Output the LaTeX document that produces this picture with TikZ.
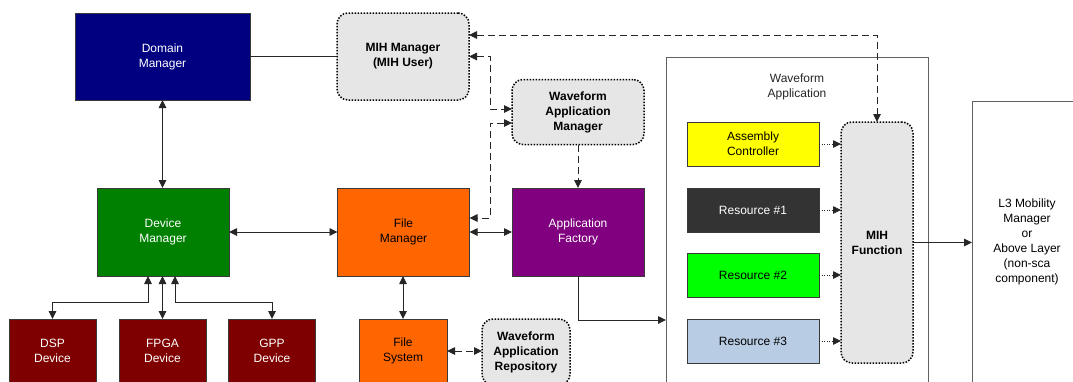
\documentclass[tikz,border=0pt]{standalone}
\usepackage{fontspec}
\setmainfont{Liberation Sans}
\usetikzlibrary{arrows.meta}
\definecolor{navybox}{HTML}{000080}
\definecolor{greenbox}{HTML}{008000}
\definecolor{orangebox}{HTML}{FF6600}
\definecolor{purplebox}{HTML}{800080}
\definecolor{maroonbox}{HTML}{7F0000}
\definecolor{softgray}{HTML}{E6E6E6}
\definecolor{darkres}{HTML}{333333}
\definecolor{limebox}{HTML}{00FF00}
\definecolor{bluebox}{HTML}{B8CCE4}
\definecolor{yellowbox}{HTML}{FFFF00}
\definecolor{edgegray}{HTML}{3A3A3A}
\definecolor{linegray}{HTML}{262626}
\begin{document}
\begin{tikzpicture}[x=1pt,y=-1pt,
  >={Triangle[length=8pt,width=7.5pt]},
  txt/.style={font=\fontsize{12}{15}\selectfont, align=center},
  box/.style={txt, draw=edgegray, line width=0.8pt, inner sep=0pt, outer sep=0pt},
  softbox/.style={txt, font=\fontsize{12}{15}\selectfont\bfseries, fill=softgray,
    draw=black, line width=1.5pt, dash pattern=on 1.5pt off 1.5pt,
    rounded corners=11pt, inner sep=0pt, outer sep=0pt},
  framebox/.style={txt, draw=edgegray!80, line width=0.8pt, fill=white, inner sep=0pt, outer sep=0pt},
  link/.style={draw=linegray, line width=0.9pt},
  dashlink/.style={draw=linegray, line width=0.9pt, dash pattern=on 7pt off 4pt},
  dotlink/.style={draw=linegray, line width=0.8pt, dash pattern=on 1pt off 1.5pt},
]
\useasboundingbox (0,0) rectangle (1073,381);
\clip (0,0) rectangle (1073,381);
\fill[white] (0,0) rectangle (1073,381);

% --- core framework ---
\node[box, fill=navybox, text=white, minimum width=175, minimum height=87] (dom) at (162.5,56.5) {Domain\\Manager};
\node[softbox, minimum width=132, minimum height=87] (mihm) at (403,56.5) {MIH Manager\\(MIH User)};
\node[softbox, minimum width=132, minimum height=65] (wam) at (578,112) {Waveform\\Application\\Manager};

\node[box, fill=greenbox, text=white, minimum width=132, minimum height=88] (dm) at (163,232) {Device\\Manager};
\node[box, fill=orangebox, minimum width=132, minimum height=88] (fm) at (403.5,232) {File\\Manager};
\node[box, fill=purplebox, text=white, minimum width=132, minimum height=88] (af) at (578,232) {Application\\Factory};

% --- devices and storage ---
\node[box, fill=maroonbox, text=white, minimum width=87, minimum height=64] (dsp) at (52.5,351) {DSP\\Device};
\node[box, fill=maroonbox, text=white, minimum width=87, minimum height=64] (fpga) at (162.5,351) {FPGA\\Device};
\node[box, fill=maroonbox, text=white, minimum width=87, minimum height=64] (gpp) at (272,351) {GPP\\Device};
\node[box, fill=orangebox, minimum width=88, minimum height=64] (fs) at (403,351) {File\\System};
\node[softbox, minimum width=88, minimum height=66] (war) at (526,352) {Waveform\\Application\\Repository};

% --- waveform application ---
\node[framebox, minimum width=262, minimum height=334] (wa) at (797,224) {};
\node[txt, text=black!85] (walabel) at (797,86.5) {Waveform\\Application};
\node[box, fill=yellowbox, minimum width=132, minimum height=44] (ac) at (753,144) {Assembly\\Controller};
\node[box, fill=darkres, text=white, minimum width=132, minimum height=44] (r1) at (753,210) {Resource \#1};
\node[box, fill=limebox, minimum width=132, minimum height=44] (r2) at (753,275) {Resource \#2};
\node[box, fill=bluebox, minimum width=132, minimum height=44] (r3) at (753,341) {Resource \#3};
\node[softbox, minimum width=72, minimum height=241] (mihf) at (877,242.5) {MIH\\Function};

% --- upper layer ---
\node[framebox, minimum width=110, minimum height=282] (l3) at (1027,242) {L3 Mobility\\Manager\\or\\Above Layer\\(non-sca\\component)};

% --- solid connectors ---
\draw[link] (dom.east) -- (mihm.west);
\draw[link,<->] (dom.south) -- (dom.south |- dm.north);
\draw[link,<->] (dm.east) -- (fm.west);
\draw[link,<->] (fm.east) -- (af.west);
\draw[link,<->] (fs.north |- fm.south) -- (fs.north);

\coordinate (dspbend) at (148,302.5);
\coordinate (gppbend) at (175,302.5);
\draw[link,<->] (dm.south -| dspbend) -- (dspbend) -| (dsp.north);
\draw[link,<->] (dm.south -| fpga.north) -- (fpga.north);
\draw[link,<->] (dm.south -| gppbend) -- (gppbend) -| (gpp.north);

\coordinate (afbend) at (578,320);
\draw[link,->] (af.south) -- (afbend) -- (afbend -| wa.west);
\draw[link,->] (mihf.east) -- (mihf.east -| l3.west);

% --- dashed control links ---
\coordinate (toprun) at (877,35);
\draw[dashlink,<->] (mihm.east |- toprun) -- (toprun) -- (mihf.north);
\coordinate (riseA) at (490.5,56.5);
\coordinate (riseB) at (490.5,109);
\draw[dashlink,<->] (mihm.east) -- (riseA) -- (riseB) -- (riseB -| wam.west);
\coordinate (dropA) at (490.5,123);
\coordinate (dropB) at (490.5,218);
\draw[dashlink,<->] (dropA -| wam.west) -- (dropA) -- (dropB) -- (dropB -| fm.east);
\draw[dashlink,->] (wam.south) -- (af.north);
\draw[dashlink,<->] (fs.east) -- (fs.east -| war.west);

% --- dotted component links ---
\foreach \n in {ac,r1,r2,r3}
  \draw[dotlink,->] (\n.east) -- (\n.east -| mihf.west);
\end{tikzpicture}
\end{document}
